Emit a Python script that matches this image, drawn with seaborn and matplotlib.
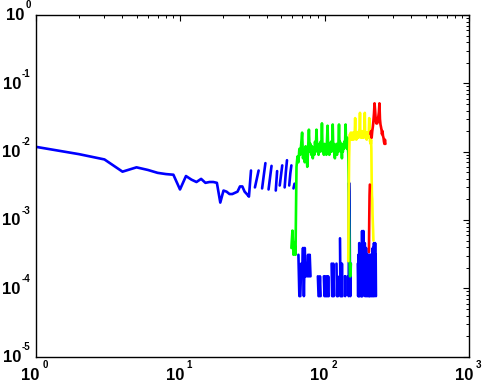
import numpy as np
import pandas as pd
import matplotlib
matplotlib.use("Agg")
import matplotlib.pyplot as plt
import seaborn as sns

N = None
# ---------------- data ----------------
blue_x = list(range(1, 228))
blue_y = [
    0.0118, 0.0092, 0.0077, 0.0051, 0.0059, 0.0054, 0.0049, 0.0047, 0.0046, 0.0028,   # 1-10
    0.0044, 0.0039, 0.0036, 0.0040, 0.0035, 0.0036, 0.0036, 0.0035, 0.0018, 0.0027,   # 11-20
    0.0026, 0.0024, 0.0024, 0.0025, 0.0026, 0.0031, 0.0031, 0.0026, 0.0024, 0.0022,   # 21-30
    0.0053, N, 0.0030, 0.0040, 0.0053, N, 0.0029, 0.0045, 0.0068, N,                  # 31-40
    0.0028, 0.0042, 0.0062, N, N, 0.0027, 0.0052, N, 0.0032, 0.0045,                  # 41-50
    0.0063, N, 0.0030, 0.0050, 0.0075, N, 0.0032, 0.0048, 0.0063, N,                  # 51-60
    0.0029, 0.0034, N, N, N, 3.1e-4, 7.7e-5, 7.7e-5, 2.3e-4, 1.5e-4,                  # 61-70
    3.9e-4, 7.7e-5, 3.9e-4, 1.5e-4, 2.3e-4, 1.5e-4, 3.1e-4, 1.5e-4, 3.1e-4, 1.5e-4,   # 71-80
    N, N, N, N, N, N, N, N, N, 1.5e-4,                                                # 81-90
    7.7e-5, 7.7e-5, 1.5e-4, 7.7e-5, N, N, N, N, 1.5e-4, 7.7e-5,                       # 91-100
    1.5e-4, 7.7e-5, 7.7e-5, 1.5e-4, 7.7e-5, 1.5e-4, 7.7e-5, N, N, N,                  # 101-110
    N, 2.3e-4, 7.7e-5, 7.7e-5, 2.3e-4, 7.7e-5, N, N, N, N,                            # 111-120
    2.3e-4, 7.7e-5, 1.5e-4, 7.7e-5, N, N, N, 5.4e-4, 7.7e-5, 2.3e-4,                  # 121-130
    7.7e-5, 2.3e-4, 7.7e-5, N, N, N, N, 1.5e-4, 7.7e-5, 1.5e-4,                       # 131-140
    N, N, N, N, N, 1.5e-4, 7.7e-5, 3.5e-3, 1.8e-3, 1.5e-4,                            # 141-150
    7.7e-5, 2.3e-4, N, N, N, N, N, N, N, N,                                           # 151-160
    N, N, N, N, N, N, N, N, N, 2.3e-4,                                                # 161-170
    7.7e-5, 3.1e-4, 7.7e-5, 4.6e-4, 7.7e-5, 3.1e-4, 1.5e-4, 3.9e-4, 7.7e-5, 2.3e-4,   # 171-180
    7.7e-5, 6.9e-4, 7.7e-5, 5.4e-4, 1.5e-4, 6.9e-4, 2.3e-4, 3.9e-4, 1.5e-4, 4.6e-4,   # 181-190
    7.7e-5, 3.1e-4, 1.5e-4, 3.9e-4, 7.7e-5, 3.1e-4, 1.5e-4, 2.3e-4, 7.7e-5, 3.1e-4,   # 191-200
    1.5e-4, 2.3e-4, 7.7e-5, 3.1e-4, 7.7e-5, 2.3e-4, 1.5e-4, 3.1e-4, 7.7e-5, 2.3e-4,   # 201-210
    1.5e-4, 3.1e-4, 7.7e-5, 2.3e-4, 1.5e-4, 3.9e-4, 7.7e-5, 2.3e-4, 1.5e-4, 4.6e-4,   # 211-220
    7.7e-5, 3.1e-4, 1.5e-4, 4.6e-4, 1.5e-4, 3.1e-4, 7.7e-5,                           # 221-227
]

green_x = list(range(59, 153))
green_y = [
    3.9e-4, 7.0e-4, 3.1e-4, 4.6e-4, 3.1e-4,                                           # 59-63
    0.0060, 0.0085, 0.0070, 0.0110, 0.0090, 0.0130, 0.0190, 0.0080, 0.0100, 0.0070,   # 64-73
    0.0120, 0.0090, 0.0060, 0.0110, 0.0210, 0.0100, 0.0130, 0.0090, 0.0120, 0.0080,   # 74-83
    0.0110, 0.0090, 0.0140, 0.0100, 0.0210, 0.0110, 0.0130, 0.0090, 0.0120, 0.0100,   # 84-93
    0.0140, 0.0110, 0.0260, 0.0100, 0.0120, 0.0090, 0.0130, 0.0100, 0.0120, 0.0090,   # 94-103
    0.0140, 0.0240, 0.0110, 0.0130, 0.0090, 0.0120, 0.0100, 0.0140, 0.0100, 0.0120,   # 104-113
    0.0250, 0.0110, 0.0130, 0.0100, 0.0080, 0.0120, 0.0100, 0.0130, 0.0090, 0.0120,   # 114-123
    0.0100, 0.0140, 0.0250, 0.0120, 0.0140, 0.0100, 0.0130, 0.0110, 0.0080, 0.0120,   # 124-133
    0.0100, 0.0130, 0.0110, 0.0140, 0.0120, 0.0150, 0.0250, 0.0130, 0.0150, 0.0110,   # 134-143
    0.0160, 0.0120, 0.0095, 0.0040, 7.0e-4, 3.1e-4, 1.5e-4, 1.5e-4, 2.3e-4,           # 144-152
]

yellow_x = list(range(146, 219))
yellow_y = [
    2.5e-4, 1.5e-3, 0.0080, 0.0150, 0.0180, 0.0150, 0.0190, 0.0160, 0.0180, 0.0150,   # 146-155
    0.0190, 0.0160, 0.0180, 0.0150, 0.0190, 0.0160, 0.0200, 0.0310, 0.0170, 0.0190,   # 156-165
    0.0150, 0.0180, 0.0160, 0.0190, 0.0170, 0.0190, 0.0160, 0.0200, 0.0180, 0.0220,   # 166-175
    0.0370, 0.0180, 0.0200, 0.0160, 0.0190, 0.0170, 0.0200, 0.0160, 0.0190, 0.0170,   # 176-185
    0.0190, 0.0160, 0.0190, 0.0210, 0.0370, 0.0190, 0.0170, 0.0190, 0.0160, 0.0180,   # 186-195
    0.0150, 0.0190, 0.0160, 0.0180, 0.0170, 0.0190, 0.0160, 0.0220, 0.0310, 0.0160,   # 196-205
    0.0170, 0.0140, 0.0160, 0.0130, 0.0150, 0.0110, 0.0040, 0.0023, 0.0020, 0.0012,   # 206-215
    0.0009, 0.0007, 0.0005,                                                           # 216-218
]

red_x = [203, 204, 205, 206, 207, 208, 210, 212, 214, 216, 218, 220, 222, 224, 226,
         228, 230, 232, 234, 236, 238, 240, 242, 244, 246, 248, 250, 252, 254, 256,
         258, 260, 262, 264]
red_y = [3.4e-4, 1.0e-3, 2.3e-3, 3.3e-3, N, 0.018, 0.020, 0.016, 0.020, 0.023,
         0.028, 0.036, 0.051, 0.040, 0.030, 0.026, 0.028, 0.026, 0.030, 0.033,
         0.038, 0.051, 0.030, 0.025, 0.023, 0.021, 0.018, 0.020, 0.017, 0.016,
         0.014, 0.013, 0.015, 0.013]

x_exponents = [0, 1, 2, 3]
y_exponents = [0, -1, -2, -3, -4, -5]

series = [("blue", blue_x, blue_y, "#0000ff"),
          ("green", green_x, green_y, "#00ff00"),
          ("yellow", yellow_x, yellow_y, "#ffff00"),
          ("red", red_x, red_y, "#ff0000")]

# ---------------- style ----------------
sns.set_style("white")
plt.rcParams["font.family"] = ["Liberation Sans", "DejaVu Sans"]
plt.rcParams["text.color"] = "black"

W, H = 482, 382
fig = plt.figure(figsize=(W / 100, H / 100), dpi=100)
ax = fig.add_axes([35.5 / W, 1 - 356.7 / H, (469 - 35.5) / W, (356.7 - 15) / H])

for name, xs, ys, col in series:
    df = pd.DataFrame({"x": np.array(xs, dtype=float),
                       "y": np.array([np.nan if v is None else v for v in ys], dtype=float)})
    df["seg"] = df["y"].isna().cumsum()
    df = df.dropna()
    sns.lineplot(data=df, x="x", y="y", units="seg", estimator=None, sort=False,
                 color=col, lw=1.9, ax=ax, legend=False)

ax.set_xscale("log")
ax.set_yscale("log")
ax.set_xlim(1, 1000)
ax.set_ylim(1e-5, 1)
ax.set_xlabel("")
ax.set_ylabel("")

for s in ax.spines.values():
    s.set_visible(True)
    s.set_color("black")
    s.set_linewidth(1.0)

ax.xaxis.set_major_locator(matplotlib.ticker.LogLocator(base=10, numticks=10))
ax.yaxis.set_major_locator(matplotlib.ticker.LogLocator(base=10, numticks=10))
ax.xaxis.set_minor_locator(matplotlib.ticker.LogLocator(base=10, subs=np.arange(2, 10), numticks=20))
ax.yaxis.set_minor_locator(matplotlib.ticker.LogLocator(base=10, subs=np.arange(2, 10), numticks=20))
ax.tick_params(which="both", direction="in", top=True, right=True, colors="black",
               labelbottom=False, labelleft=False)
ax.tick_params(which="major", length=4, width=0.8)
ax.tick_params(which="minor", length=2.2, width=0.7)
ax.grid(False)

# ---------------- MATLAB-style tick labels: big "10" + small exponent ----------------
fig.canvas.draw()
renderer = fig.canvas.get_renderer()
BASE, EXP = 12, 7
WEIGHT = "bold"


def px(xp, yp):
    # pixel coords from top-left -> figure fraction
    return xp / W, 1 - yp / H


# y labels: right-aligned ending ~5 px left of the axis
for e in y_exponents:
    yd = ax.transData.transform((1, 10.0 ** e))[1]
    yp = H - yd
    t_exp = fig.text(*px(30.5, yp - 6.5), str(e), fontsize=EXP, ha="right", va="baseline",
                     color="black", fontweight=WEIGHT)
    bb = t_exp.get_window_extent(renderer)
    fig.text(bb.x0 / W - 1.0 / W, 1 - (yp + 5.2) / H, "10", fontsize=BASE,
             ha="right", va="baseline", color="black", fontweight=WEIGHT)

# x labels: whole label centred on the tick
for e in x_exponents:
    xd = ax.transData.transform((10.0 ** e, 1e-5))[0]
    t10 = fig.text(0, 0, "10", fontsize=BASE, ha="left", va="baseline",
                   color="black", fontweight=WEIGHT)
    te = fig.text(0, 0, str(e), fontsize=EXP, ha="left", va="baseline",
                  color="black", fontweight=WEIGHT)
    w10 = t10.get_window_extent(renderer).width
    we = te.get_window_extent(renderer).width
    total = w10 + 2.5 + we
    x0 = xd - total / 2 - 1
    t10.set_position((x0 / W, 1 - 380.5 / H))
    te.set_position(((x0 + w10 + 2.5) / W, 1 - 368.5 / H))

fig.savefig("out.png", dpi=100)
